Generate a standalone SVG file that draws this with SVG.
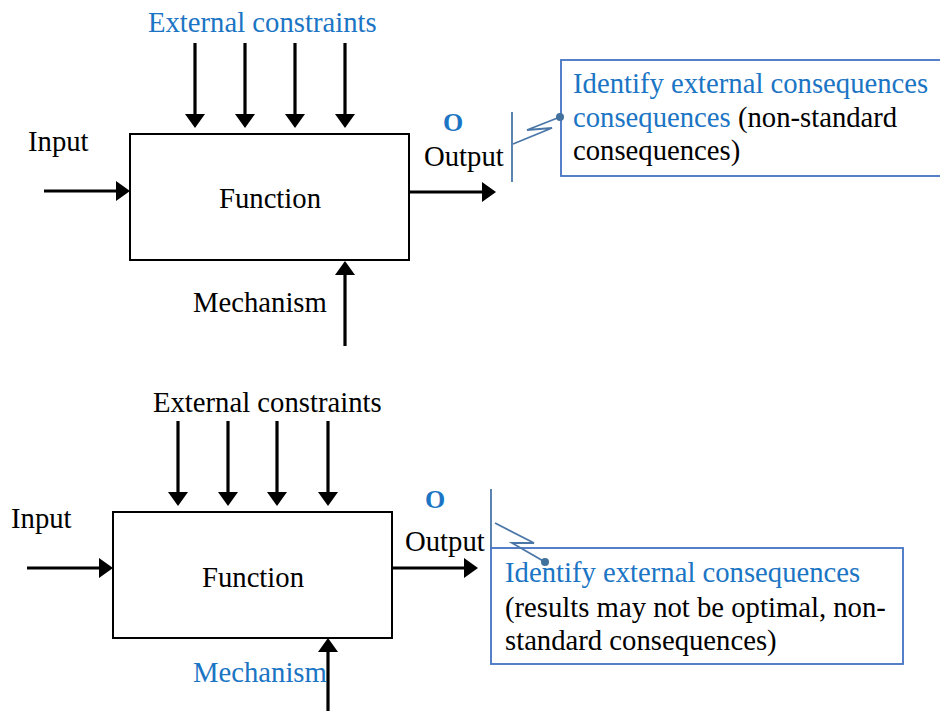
<svg xmlns="http://www.w3.org/2000/svg" width="940" height="711" viewBox="0 0 940 711">
<defs>
<marker id="ah" markerUnits="userSpaceOnUse" markerWidth="14" markerHeight="20" viewBox="0 0 14 20" refX="8" refY="10" orient="auto">
<path d="M0,0 L14,10 L0,20 z" fill="#000"/>
</marker>
<style>
text{font-family:"Liberation Serif","Times New Roman",serif;font-size:28.7px;fill:#000}
.b{fill:#1b75c4}
.o{font-weight:bold;font-size:26px;fill:#1b75c4}
.box{fill:#fff;stroke:#000;stroke-width:2}
.arr{stroke:#000;stroke-width:3.2;fill:none;marker-end:url(#ah)}
.call{fill:#fff;stroke:#4472c4;stroke-width:1.8}
.zz{fill:none;stroke:#4a76a8;stroke-width:1.8}
.dot{fill:#41719c}
</style>
</defs>
<rect width="940" height="711" fill="#fff"/>

<g id="connectors">
<line class="arr" x1="195" y1="43" x2="195" y2="122"/>
<line class="arr" x1="245" y1="43" x2="245" y2="122"/>
<line class="arr" x1="295" y1="43" x2="295" y2="122"/>
<line class="arr" x1="345" y1="43" x2="345" y2="122"/>
<line class="arr" x1="44" y1="191" x2="124" y2="191"/>
<line class="arr" x1="409" y1="192" x2="490" y2="192"/>
<line class="arr" x1="345" y1="346" x2="345" y2="267"/>
<line class="zz" x1="512" y1="112" x2="512" y2="182"/>
<polyline class="zz" points="513,144 552,128 527,130 560,117"/>
<line class="arr" x1="178" y1="421" x2="178" y2="500"/>
<line class="arr" x1="228" y1="421" x2="228" y2="500"/>
<line class="arr" x1="277" y1="421" x2="277" y2="500"/>
<line class="arr" x1="328" y1="421" x2="328" y2="500"/>
<line class="arr" x1="27" y1="568" x2="107" y2="568"/>
<line class="arr" x1="392" y1="568" x2="472" y2="568"/>
<line class="arr" x1="328" y1="711" x2="328" y2="644"/>
<line class="zz" x1="491" y1="489" x2="491" y2="548"/>
</g>

<g id="top-function">
<rect class="box" x="130" y="134" width="279" height="126"/>
<text x="270" y="208" text-anchor="middle">Function</text>
</g>
<g id="top-constraints"><text class="b" x="148" y="32">External constraints</text></g>
<g id="top-input"><text x="28" y="151">Input</text></g>
<g id="top-mechanism"><text x="193" y="312">Mechanism</text></g>
<g id="top-output">
<text class="o" x="443" y="131">O</text>
<text x="424" y="166">Output</text>
</g>
<g id="top-callout">
<rect class="call" x="561" y="60" width="400" height="116"/>
<circle class="dot" cx="560" cy="117" r="4"/>
<text x="573" y="93" class="b">Identify external consequences</text>
<text x="573" y="127"><tspan class="b">consequences</tspan> (non-standard</text>
<text x="573" y="160">consequences)</text>
</g>

<g id="bottom-function">
<rect class="box" x="113" y="512" width="279" height="126"/>
<text x="253" y="587" text-anchor="middle">Function</text>
</g>
<g id="bottom-constraints"><text x="153" y="412">External constraints</text></g>
<g id="bottom-input"><text x="11" y="528">Input</text></g>
<g id="bottom-mechanism"><text class="b" x="193" y="682">Mechanism</text></g>
<g id="bottom-output">
<text class="o" x="425" y="508">O</text>
<text x="405" y="551">Output</text>
</g>
<g id="bottom-callout">
<rect class="call" x="491" y="548" width="412" height="116"/>
<polyline class="zz" points="495,523 534,543 512,543 545,562"/>
<circle class="dot" cx="545" cy="562" r="4"/>
<text x="505" y="582" class="b">Identify external consequences</text>
<text x="505" y="617">(results may not be optimal, non-</text>
<text x="505" y="650">standard consequences)</text>
</g>
</svg>
